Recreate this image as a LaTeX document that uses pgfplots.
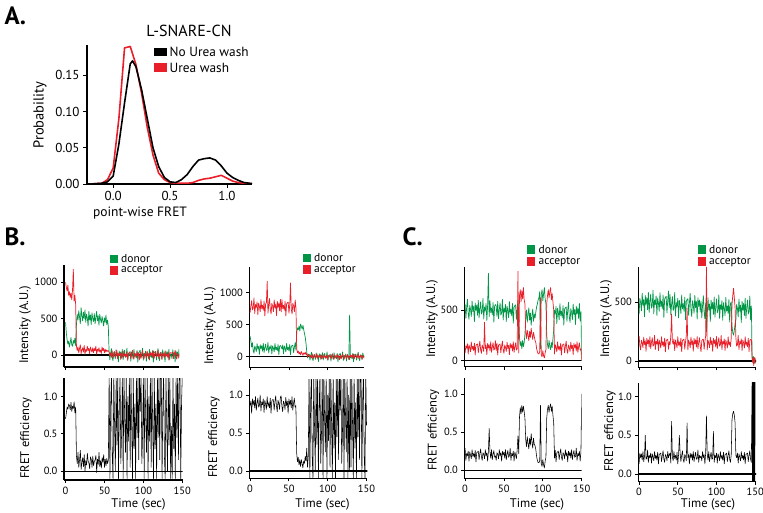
\documentclass[border=0pt]{standalone}
\usepackage{pgfplots}
\pgfplotsset{compat=1.18}
\usepackage{pgfplotstable}
\usepackage{fontspec}
\setmainfont{PT Sans}
\definecolor{dgreen}{RGB}{0,150,70}
\definecolor{dred}{RGB}{232,30,40}

\pgfplotstableread{
x p
-0.2 0
-0.15 0.0005
-0.1 0.001
-0.05 0.003
0.0 0.011
0.05 0.055
0.1 0.112
0.15 0.166
0.17 0.170
0.2 0.162
0.25 0.130
0.3 0.090
0.35 0.050
0.4 0.024
0.45 0.009
0.5 0.003
0.55 0.002
0.6 0.006
0.65 0.013
0.7 0.024
0.75 0.033
0.8 0.035
0.85 0.036
0.9 0.033
0.95 0.025
1.0 0.015
1.05 0.009
1.1 0.005
1.15 0.002
1.2 0.001
1.25 0
}\nourea

\pgfplotstableread{
x p
-0.2 0
-0.15 0.0005
-0.1 0.001
-0.05 0.006
0.0 0.022
0.05 0.090
0.1 0.188
0.15 0.190
0.2 0.165
0.25 0.125
0.3 0.078
0.35 0.040
0.4 0.015
0.45 0.006
0.5 0.002
0.55 0.001
0.6 0.001
0.65 0.001
0.7 0.002
0.75 0.005
0.8 0.007
0.85 0.008
0.9 0.010
0.95 0.012
1.0 0.008
1.05 0.004
1.1 0.002
1.15 0.001
1.2 0.0005
1.25 0
}\urea

\pgfplotstableread{
t d a f
0 450 1000 0.70
1 300 930 0.78
2 210 880 0.86
3 150 960 0.83
4 190 820 0.90
5 110 870 0.88
6 170 790 0.82
7 240 850 0.92
8 140 760 0.80
9 120 900 0.87
10 200 1180 0.84
11 160 740 0.93
12 230 820 0.78
13 130 700 0.86
14 420 120 0.20
15 560 60 0.10
16 480 110 0.25
17 610 30 0.05
18 520 90 0.15
19 430 140 0.28
20 650 20 0.02
21 540 70 0.12
22 470 100 0.18
23 590 40 0.06
24 500 130 0.22
25 620 10 0.00
26 450 80 0.14
27 560 50 0.08
28 510 120 0.24
29 400 60 0.13
30 600 90 0.11
31 480 20 0.03
32 550 110 0.19
33 420 70 0.16
34 580 40 0.05
35 500 100 0.20
36 460 30 0.07
37 570 90 0.13
38 430 60 0.15
39 520 120 0.21
40 600 10 -0.02
41 470 80 0.16
42 540 50 0.09
43 410 100 0.25
44 560 40 0.06
45 490 70 0.14
46 440 20 0.04
47 530 110 0.18
48 470 60 0.12
49 400 90 0.22
50 510 30 0.05
51 450 80 0.16
52 550 40 0.07
53 420 70 0.17
54 480 50 0.10
55 400 60 0.15
56 50 42 1.3
57 -68 -4 -0.1
58 20 30 0.9
59 88 -32 1.3
60 -28 58 0.2
61 -77 -46 -0.1
62 36 8 1.3
63 6 48 0.6
64 -53 -24 0.0
65 73 -12 1.3
66 -13 68 0.35
67 30 -53 1.3
68 -94 18 -0.1
69 57 -6 0.8
70 -6 38 1.3
71 42 -62 0.1
72 -44 28 0.5
73 79 2 1.3
74 -64 -40 -0.1
75 11 56 1.3
76 66 -16 0.7
77 -33 12 0.25
78 -17 -28 1.3
79 94 44 -0.1
80 -73 -72 1.0
81 24 22 0.4
82 -9 32 1.3
83 53 36 0.05
84 -86 -50 1.3
85 39 14 0.6
86 2 64 -0.1
87 -55 -20 1.3
88 77 -56 0.3
89 -22 26 0.9
90 17 4 -0.1
91 -39 -38 1.3
92 61 53 0.45
93 -99 -10 1.3
94 31 22 0.15
95 44 -68 1.3
96 66 36 0.8
97 -33 -50 1.3
98 -17 14 0.1
99 94 64 0.5
100 -73 -20 1.3
101 24 -56 -0.1
102 -9 26 1.3
103 53 4 0.7
104 -86 -38 0.25
105 39 53 1.3
106 2 -10 -0.1
107 -55 22 1.0
108 77 -68 0.4
109 -22 42 1.3
110 17 -4 0.05
111 -39 30 1.3
112 61 -32 0.6
113 -99 58 -0.1
114 31 -46 1.3
115 44 8 0.3
116 50 48 0.9
117 -68 -24 -0.1
118 20 -12 1.3
119 88 68 0.45
120 -28 -53 1.3
121 -77 18 0.15
122 36 -6 1.3
123 6 38 1.3
124 -53 -62 -0.1
125 73 28 0.9
126 -13 2 1.3
127 30 -40 0.2
128 -94 56 -0.1
129 57 -16 1.3
130 -6 12 0.6
131 42 -28 0.0
132 -44 44 1.3
133 79 -72 0.35
134 -64 22 1.3
135 11 32 -0.1
136 6 22 0.6
137 -53 32 -0.1
138 73 36 1.3
139 -13 -50 0.3
140 30 14 0.9
141 -94 64 -0.1
142 57 -20 1.3
143 -6 -56 0.45
144 42 26 1.3
145 -44 4 0.15
146 79 -38 1.3
147 -64 53 1.3
148 11 -10 -0.1
149 66 22 0.9
150 -33 -68 1.3
}\bone

\pgfplotstableread{
t d a f
0 320 688 0.86
1 250 796 0.92
2 150 876 0.76
3 218 732 0.95
4 102 756 0.87
5 53 916 0.93
6 166 674 0.83
7 136 816 0.98
8 77 768 0.80
9 203 856 0.89
10 117 656 0.96
11 160 836 0.84
12 36 784 0.86
13 187 700 1.00
14 124 892 0.79
15 172 748 0.91
16 86 804 0.87
17 209 724 0.95
18 66 868 0.77
19 141 636 0.93
20 196 824 0.88
21 97 844 0.81
22 113 1180 0.98
23 224 680 0.85
24 57 808 0.90
25 154 908 0.83
26 121 740 0.96
27 183 668 0.76
28 44 832 0.92
29 169 788 0.94
30 132 704 0.94
31 75 886 0.80
32 207 760 0.91
33 108 824 0.99
34 147 644 0.85
35 91 864 0.78
36 191 772 0.93
37 31 840 0.89
38 161 716 0.81
39 174 896 0.97
40 154 700 0.99
41 121 892 0.85
42 183 748 0.78
43 44 804 0.92
44 169 724 0.89
45 132 868 0.81
46 75 636 0.97
47 207 824 0.86
48 108 844 0.92
49 147 852 0.76
50 91 680 0.95
51 191 808 0.87
52 31 1150 0.93
53 161 740 0.83
54 174 668 0.98
55 180 832 0.80
56 62 788 0.89
57 150 704 0.96
58 218 886 0.84
59 102 760 0.86
60 380 120 0.24
61 450 60 0.12
62 420 90 0.18
63 480 40 0.08
64 400 70 0.15
65 510 30 0.06
66 470 80 0.15
67 430 50 0.10
68 490 20 0.04
69 420 60 0.13
70 360 40 0.10
71 300 70 0.19
72 200 30 0.13
73 60 50 0.30
74 -20 -10 0.05
75 40 30 0.20
76 40 29 1.3
77 -54 -3 -0.1
78 16 21 0.9
79 70 -22 1.3
80 -22 41 0.2
81 -62 -32 -0.1
82 29 6 1.3
83 5 34 0.6
84 -42 -17 0.0
85 58 -8 1.3
86 -10 48 0.35
87 24 -37 1.3
88 -75 13 -0.1
89 46 -4 0.8
90 -5 27 1.3
91 34 -43 0.1
92 -35 20 0.5
93 63 1 1.3
94 -51 -28 -0.1
95 9 39 1.3
96 53 -11 0.7
97 -26 8 0.25
98 -14 -20 1.3
99 75 31 -0.1
100 -58 -50 1.0
101 19 15 0.4
102 -7 22 1.3
103 42 25 0.05
104 -69 -35 1.3
105 31 10 0.6
106 2 45 -0.1
107 -44 -14 1.3
108 62 -39 0.3
109 -18 18 0.9
110 14 3 -0.1
111 -31 -27 1.3
112 49 37 0.45
113 -79 -7 1.3
114 25 15 0.15
115 35 -48 1.3
116 53 25 0.8
117 -26 -35 1.3
118 -14 10 0.1
119 75 45 0.5
120 -58 -14 1.3
121 19 -39 -0.1
122 -7 18 1.3
123 42 3 0.7
124 -69 -27 0.25
125 31 37 1.3
126 2 -7 -0.1
127 -44 15 1.0
128 650 -48 0.0
129 -18 29 1.3
130 14 -3 0.05
131 -31 21 1.3
132 49 -22 0.6
133 -79 41 -0.1
134 25 -32 1.3
135 35 6 0.3
136 40 34 0.9
137 -54 -17 -0.1
138 16 -8 1.3
139 70 48 0.45
140 -22 -37 1.3
141 -62 13 0.15
142 29 -4 1.3
143 5 27 1.3
144 -42 -43 -0.1
145 58 20 0.9
146 -10 1 1.3
147 24 -28 0.2
148 -75 39 -0.1
149 46 -11 1.3
150 -5 8 0.6
}\btwo

\pgfplotstableread{
t d a f
0 560 77 0.29
1 418 148 0.13
2 524 124 0.22
3 606 168 0.19
4 466 68 0.25
5 408 158 0.12
6 543 132 0.24
7 507 90 0.20
8 436 186 0.15
9 588 114 0.27
10 484 142 0.18
11 536 102 0.22
12 387 174 0.17
13 568 58 0.26
14 493 152 0.11
15 550 162 0.23
16 447 166 0.24
17 595 80 0.25
18 423 144 0.14
19 513 194 0.22
20 579 110 0.28
21 460 74 0.18
22 480 156 0.13
23 613 134 0.23
24 412 92 0.21
25 529 380 0.15
26 489 120 0.27
27 564 152 0.19
28 397 62 0.23
29 547 172 0.12
30 860 126 0.25
31 434 160 0.55
32 592 98 0.24
33 474 188 0.16
34 520 84 0.27
35 453 138 0.14
36 573 178 0.21
37 381 106 0.26
38 537 118 0.17
39 553 198 0.19
40 540 102 0.13
41 437 174 0.23
42 585 58 0.21
43 413 152 0.15
44 503 162 0.27
45 569 166 0.19
46 450 80 0.23
47 470 144 0.12
48 603 194 0.25
49 402 110 0.20
50 519 74 0.24
51 479 156 0.16
52 554 134 0.27
53 387 92 0.14
54 537 183 0.21
55 492 120 0.26
56 424 152 0.17
57 582 62 0.19
58 464 172 0.29
59 510 126 0.13
60 443 160 0.22
61 563 98 0.19
62 371 188 0.25
63 527 84 0.12
64 543 138 0.24
65 550 178 0.20
66 408 106 0.15
67 514 118 0.27
68 596 880 0.45
69 456 77 0.22
70 230 640 0.70
71 150 700 0.82
72 190 580 0.74
73 120 690 0.85
74 200 610 0.76
75 140 720 0.84
76 180 600 0.77
77 260 560 0.68
78 420 280 0.40
79 500 220 0.31
80 380 300 0.44
81 460 250 0.35
82 520 200 0.28
83 400 290 0.42
84 470 230 0.33
85 350 320 0.48
86 440 260 0.37
87 510 210 0.29
88 390 280 0.42
89 460 240 0.34
90 420 200 0.32
91 480 180 0.27
92 530 120 0.18
93 560 90 0.13
94 600 70 0.10
95 620 70 0.10
96 680 90 0.12
97 120 620 0.85
98 650 60 0.08
99 700 40 0.05
100 590 100 0.14
101 660 50 0.07
102 720 30 0.03
103 610 80 0.12
104 560 110 0.17
105 260 560 0.68
106 160 640 0.80
107 120 700 0.85
108 200 620 0.76
109 140 680 0.83
110 110 720 0.87
111 180 600 0.77
112 130 660 0.84
113 220 580 0.72
114 300 500 0.62
115 499 68 0.16
116 459 158 0.26
117 534 132 0.11
118 367 90 0.23
119 517 186 0.24
120 472 114 0.25
121 404 142 0.14
122 562 102 0.22
123 444 174 0.28
124 490 58 0.17
125 423 152 0.13
126 543 162 0.23
127 351 166 0.21
128 507 80 0.15
129 523 144 0.27
130 530 194 0.19
131 388 110 0.23
132 494 74 0.11
133 576 156 0.25
134 436 134 0.19
135 378 92 0.24
136 513 183 0.16
137 477 120 0.27
138 406 152 0.14
139 558 62 0.21
140 454 172 0.26
141 506 126 0.17
142 357 160 0.18
143 538 98 0.29
144 463 188 0.13
145 520 84 0.22
146 417 138 0.19
147 565 178 0.25
148 393 106 0.12
149 483 118 0.24
150 0 0 1.0
}\cone

\pgfplotstableread{
t d a f
0 398 214 0.13
1 533 130 0.27
2 497 94 0.21
3 426 176 0.26
4 578 154 0.18
5 474 112 0.29
6 526 203 0.16
7 377 140 0.23
8 558 172 0.50
9 483 82 0.19
10 540 192 0.20
11 437 146 0.31
12 585 180 0.15
13 413 118 0.24
14 503 208 0.21
15 569 104 0.27
16 450 158 0.14
17 470 198 0.26
18 603 126 0.22
19 402 138 0.17
20 519 218 0.29
21 479 97 0.20
22 554 168 0.24
23 387 144 0.18
24 537 188 0.28
25 492 88 0.13
26 424 178 0.25
27 582 152 0.26
28 464 110 0.27
29 510 206 0.16
30 443 134 0.24
31 563 162 0.30
32 371 122 0.19
33 527 194 0.15
34 543 78 0.25
35 550 172 0.23
36 408 182 0.17
37 514 186 0.29
38 596 100 0.21
39 456 164 0.25
40 565 138 0.27
41 393 218 0.14
42 483 400 0.68
43 549 168 0.22
44 430 144 0.17
45 450 188 0.29
46 583 88 0.20
47 382 178 0.24
48 499 152 0.18
49 459 110 0.28
50 534 206 0.13
51 367 134 0.25
52 517 162 0.50
53 472 122 0.27
54 404 194 0.16
55 562 78 0.24
56 444 172 0.30
57 490 182 0.19
58 423 186 0.15
59 543 100 0.25
60 351 164 0.23
61 507 214 0.17
62 523 450 0.66
63 530 94 0.21
64 388 176 0.25
65 494 154 0.13
66 576 112 0.27
67 436 203 0.21
68 378 140 0.26
69 513 172 0.18
70 477 82 0.29
71 406 192 0.16
72 558 146 0.23
73 454 180 0.28
74 506 118 0.19
75 357 208 0.20
76 538 104 0.31
77 463 158 0.15
78 520 198 0.24
79 417 126 0.21
80 510 78 0.23
81 368 172 0.17
82 474 182 0.29
83 556 186 0.21
84 416 100 0.25
85 358 164 0.13
86 493 214 0.27
87 250 800 0.75
88 386 94 0.26
89 538 176 0.18
90 434 154 0.29
91 486 112 0.16
92 337 203 0.23
93 518 140 0.28
94 443 172 0.19
95 500 82 0.20
96 397 192 0.55
97 545 146 0.15
98 373 180 0.24
99 463 118 0.21
100 529 208 0.27
101 410 104 0.14
102 430 158 0.26
103 563 198 0.22
104 362 126 0.17
105 479 138 0.29
106 439 218 0.20
107 514 97 0.24
108 347 168 0.18
109 497 144 0.28
110 452 188 0.13
111 384 88 0.25
112 542 178 0.26
113 424 152 0.27
114 470 110 0.16
115 403 206 0.24
116 523 134 0.30
117 331 162 0.19
118 487 122 0.15
119 503 194 0.25
120 300 480 0.70
121 240 560 0.78
122 220 620 0.81
123 260 540 0.76
124 320 450 0.66
125 348 198 0.24
126 483 126 0.21
127 447 138 0.27
128 376 218 0.14
129 528 97 0.26
130 424 168 0.22
131 476 144 0.17
132 327 188 0.29
133 508 88 0.20
134 433 178 0.24
135 490 152 0.18
136 387 110 0.28
137 535 206 0.13
138 363 134 0.25
139 453 162 0.26
140 519 122 0.27
141 400 194 0.16
142 420 78 0.24
143 553 172 0.30
144 352 182 0.19
145 469 186 0.15
146 30 20 1.3
146.5 -10 10 -0.1
147 20 -15 1.3
147.5 40 30 -0.1
148 -20 -40 1.3
148.5 30 20 -0.1
149 10 -10 1.3
149.5 -20 30 -0.1
150 20 -20 1.3
}\ctwo

\pgfplotsset{
  base/.style={scale only axis, anchor=south west, axis lines=left,
    axis line style={-, line width=1.1pt, black},
    every tick/.style={black, line width=0.9pt},
    tick align=outside, major tick length=3pt,
    /pgf/number format/assume math mode=true,
    /pgf/number format/1000 sep={},
    scaled ticks=false,
    tick label style={font=\fontsize{10.5}{12}\selectfont},
    enlargelimits=false, clip=true},
  toppan/.style={base, xtick={0,50,100,150}, xticklabels={}},
  botpan/.style={base, xtick={0,50,100,150}, ytick={0,0.5,1},
    yticklabel style={/pgf/number format/.cd, fixed, fixed zerofill, precision=1}},
  tr/.style={line width=0.7pt, line join=round},
  fr/.style={black, line width=0.55pt, line join=round},
}

\begin{document}
\begin{tikzpicture}
\path[use as bounding box] (0pt,0pt) rectangle (763pt,512pt);

% ---------- Panel A ----------
\begin{axis}[base, at={(87pt,328pt)}, width=165pt, height=139pt,
  xmin=-0.23, xmax=1.22, ymin=0, ymax=0.192,
  xtick={0,0.5,1}, ytick={0,0.05,0.1,0.15}, major tick length=4pt,
  tick label style={font=\fontsize{13}{15}\selectfont},
  xticklabel style={/pgf/number format/.cd, fixed, fixed zerofill, precision=1},
  yticklabel style={/pgf/number format/.cd, fixed, fixed zerofill, precision=2}]
\addplot[dred, line width=1.6pt, line join=round] table[x=x,y=p]{\urea};
\addplot[black, line width=1.6pt, line join=round] table[x=x,y=p]{\nourea};
\end{axis}
\node[anchor=base west, font=\fontsize{25}{25}\selectfont\bfseries] at (1pt,487pt) {A.};
\node[font=\fontsize{16}{18}\selectfont] at (189pt,481pt) {L-SNARE-CN};
\node[font=\fontsize{14.5}{16}\selectfont, rotate=90] at (40pt,397pt) {Probability};
\node[font=\fontsize{13.5}{15}\selectfont] at (140pt,299pt) {point-wise FRET};
\fill[black] (154pt,456.3pt) rectangle (166.7pt,464.3pt);
\node[anchor=west, inner sep=0pt, font=\fontsize{13.3}{14}\selectfont] at (169.5pt,460pt) {No Urea wash};
\fill[dred] (154pt,440.3pt) rectangle (166.7pt,448.7pt);
\node[anchor=west, inner sep=0pt, font=\fontsize{13.3}{14}\selectfont] at (169.5pt,444.5pt) {Urea wash};

% ---------- Panel B left ----------
\begin{axis}[toppan, at={(64pt,145pt)}, width=115pt, height=102pt,
  xmin=-2, xmax=146, ymin=-165, ymax=1238, ytick={0,500,1000}]
\addplot[black, line width=1.1pt] coordinates {(-5,0) (155,0)};
\addplot[dgreen, tr] table[x=t,y=d]{\bone};
\addplot[dred, tr] table[x=t,y=a]{\bone};
\end{axis}
\begin{axis}[botpan, at={(64pt,32pt)}, width=118.7pt, height=101.7pt,
  xmin=-2, xmax=150.5, ymin=-0.12, ymax=1.245]
\addplot[fr] table[x=t,y=f]{\bone};
\addplot[black, line width=1.1pt] coordinates {(-5,0) (155,0)};
\end{axis}

% ---------- Panel B right ----------
\begin{axis}[toppan, at={(249.3pt,144.7pt)}, width=114.7pt, height=100.6pt,
  xmin=-1, xmax=146.5, ymin=-166, ymax=1406, ytick={0,500,1000}]
\addplot[black, line width=1.1pt] coordinates {(-5,0) (155,0)};
\addplot[dgreen, tr] table[x=t,y=d]{\btwo};
\addplot[dred, tr] table[x=t,y=a]{\btwo};
\end{axis}
\begin{axis}[botpan, at={(249.3pt,33.7pt)}, width=118pt, height=99pt,
  xmin=-1, xmax=151, ymin=-0.096, ymax=1.207]
\addplot[fr] table[x=t,y=f]{\btwo};
\addplot[black, line width=1.1pt] coordinates {(-5,0) (155,0)};
\end{axis}

% ---------- Panel C left ----------
\begin{axis}[toppan, at={(464.3pt,145.3pt)}, width=117.4pt, height=100pt,
  xmin=-1, xmax=150, ymin=-57, ymax=925, ytick={0,500}]
\addplot[black, line width=1.1pt] coordinates {(-5,0) (155,0)};
\addplot[dgreen, tr] table[x=t,y=d]{\cone};
\addplot[dred, tr] table[x=t,y=a]{\cone};
\end{axis}
\begin{axis}[botpan, at={(464.3pt,33.7pt)}, width=117.4pt, height=100pt,
  xmin=-1, xmax=150, ymin=-0.105, ymax=1.205]
\addplot[fr] table[x=t,y=f]{\cone};
\addplot[black, line width=1.1pt] coordinates {(-5,0) (155,0)};
\end{axis}

% ---------- Panel C right ----------
\begin{axis}[toppan, at={(638.3pt,144.7pt)}, width=117.7pt, height=100.6pt,
  xmin=-1, xmax=151, ymin=-54, ymax=803, ytick={0,500}]
\addplot[black, line width=1.1pt] coordinates {(-5,0) (155,0)};
\addplot[dgreen, tr] table[x=t,y=d]{\ctwo};
\addplot[dred, tr] table[x=t,y=a]{\ctwo};
\end{axis}
\begin{axis}[botpan, at={(638.3pt,30.3pt)}, width=117.7pt, height=99pt,
  xmin=-1, xmax=151, ymin=-0.1, ymax=1.18]
\addplot[fr] table[x=t,y=f]{\ctwo};
\addplot[black, line width=1.1pt] coordinates {(-5,0) (155,0)};
\end{axis}

% ---------- labels B / C ----------
\node[anchor=base west, font=\fontsize{25}{25}\selectfont\bfseries] at (1pt,266pt) {B.};
\node[anchor=base west, font=\fontsize{25}{25}\selectfont\bfseries] at (399pt,266pt) {C.};

\begin{scope}[every node/.style={font=\fontsize{12.5}{15}\selectfont}]
\node[rotate=90] at (25pt,187pt) {Intensity (A.U.)};
\node[rotate=90] at (26pt,74pt) {FRET efficiency};
\node at (138.5pt,8pt) {Time (sec)};
\node[rotate=90] at (210pt,186pt) {Intensity (A.U.)};
\node[rotate=90] at (214pt,75pt) {FRET efficiency};
\node at (322.5pt,8pt) {Time (sec)};
\node[rotate=90] at (432pt,193pt) {Intensity (A.U.)};
\node[rotate=90] at (433.5pt,82pt) {FRET efficiency};
\node at (537pt,8pt) {Time (sec)};
\node[rotate=90] at (606pt,193pt) {Intensity (A.U.)};
\node[rotate=90] at (610pt,81pt) {FRET efficiency};
\node at (708pt,8pt) {Time (sec)};
\end{scope}

% ---------- legends B / C ----------
\begin{scope}[every node/.style={anchor=west, inner sep=0pt, font=\fontsize{11.5}{13}\selectfont}]
\fill[dgreen] (110pt,248.7pt) rectangle (118.3pt,257pt);
\node at (121pt,253pt) {donor};
\fill[dred] (110pt,237pt) rectangle (118.3pt,246pt);
\node at (121pt,241.5pt) {acceptor};
\fill[dgreen] (303.3pt,250.3pt) rectangle (310.7pt,258pt);
\node at (314pt,254pt) {donor};
\fill[dred] (303.3pt,238pt) rectangle (310.7pt,247pt);
\node at (314pt,242pt) {acceptor};
\fill[dgreen] (527.3pt,257.7pt) rectangle (535pt,266.7pt);
\node at (538.5pt,262pt) {donor};
\fill[dred] (527.3pt,246pt) rectangle (535pt,255.3pt);
\node at (538.5pt,250.3pt) {acceptor};
\fill[dgreen] (698.3pt,258pt) rectangle (706pt,267pt);
\node at (709pt,262pt) {donor};
\fill[dred] (698.3pt,246pt) rectangle (706pt,255pt);
\node at (709pt,250.3pt) {acceptor};
\end{scope}
\end{tikzpicture}
\end{document}
